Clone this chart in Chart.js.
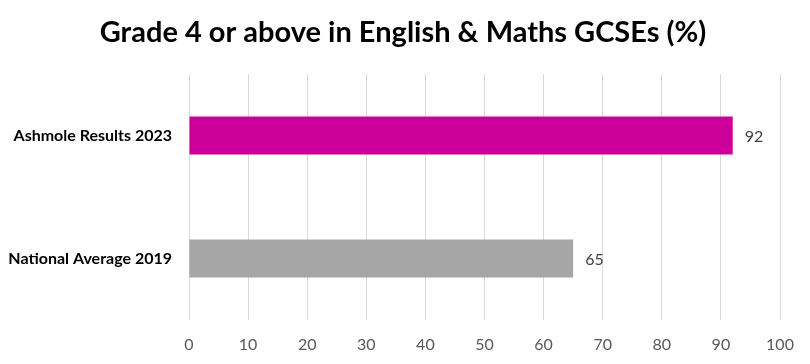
<!DOCTYPE html>
<html>
<head>
<meta charset="utf-8">
<script src="https://cdn.jsdelivr.net/npm/chart.js@4"></script>
<style>
	html, body { margin: 0; padding: 0; background: #ffffff; }
	#wrap { width: 810px; height: 364px; }
</style>
</head>
<body>
<div id="wrap"><canvas id="myChart" width="810" height="364"></canvas></div>
<script>
// chart data
var categories = ["Ashmole Results 2023", "National Average 2019"];
var values = [92, 65];
var barColours = ["#CC0099", "#A6A6A6"];
var xTicks = [0, 10, 20, 30, 40, 50, 60, 70, 80, 90, 100];
var chartTitle = "Grade 4 or above in English & Maths GCSEs (%)";

// title (centred on the whole picture) and the value right of each bar
var extraText = {
	id: 'extraText',
	afterDatasetsDraw: function (chart)
	{
		var ctx = chart.ctx;
		var meta = chart.getDatasetMeta(0);
		ctx.save();
		ctx.font = 'bold 29px Lato';
		ctx.fillStyle = '#000000';
		ctx.textAlign = 'center';
		ctx.textBaseline = 'middle';
		ctx.fillText(chartTitle, 403, 33);

		ctx.font = '16px Lato';
		ctx.fillStyle = '#404040';
		ctx.textAlign = 'left';
		meta.data.forEach(function (bar, i)
		{
			ctx.fillText(values[i], bar.x + 12, bar.y + 1);
		});
		ctx.restore();
	}
};

var ctx = document.getElementById("myChart");
var myChart = new Chart(ctx, {
	type: 'bar',
	data: {
		labels: categories,
		datasets: [{
			data: values,
			backgroundColor: barColours,
			borderWidth: 0,
			categoryPercentage: 1,
			barPercentage: 0.31
		}]
	},
	options: {
		indexAxis: 'y',
		responsive: false,
		animation: false,
		layout: { padding: { top: 74, right: 30, left: 0, bottom: 0 } },
		plugins: {
			legend: { display: false },
			tooltip: { enabled: false },
			title: { display: false }
		},
		scales: {
			x: {
				min: 0,
				max: 100,
				afterBuildTicks: function (scale)
				{
					scale.ticks = xTicks.map(function (v) { return { value: v }; });
				},
				afterFit: function (scale) { scale.height = 44; },
				grid: { color: '#D9D9D9', lineWidth: 1, drawTicks: false },
				border: { display: false },
				ticks: {
					color: '#595959',
					padding: 15,
					font: { family: 'Lato', size: 16 }
				}
			},
			y: {
				afterFit: function (scale) { scale.width = 189; },
				grid: { display: false },
				border: { display: false },
				ticks: {
					color: '#000000',
					padding: 9,
					font: { family: 'Lato', size: 16, weight: 'bold' }
				}
			}
		}
	},
	plugins: [extraText]
});
</script>
</body>
</html>
